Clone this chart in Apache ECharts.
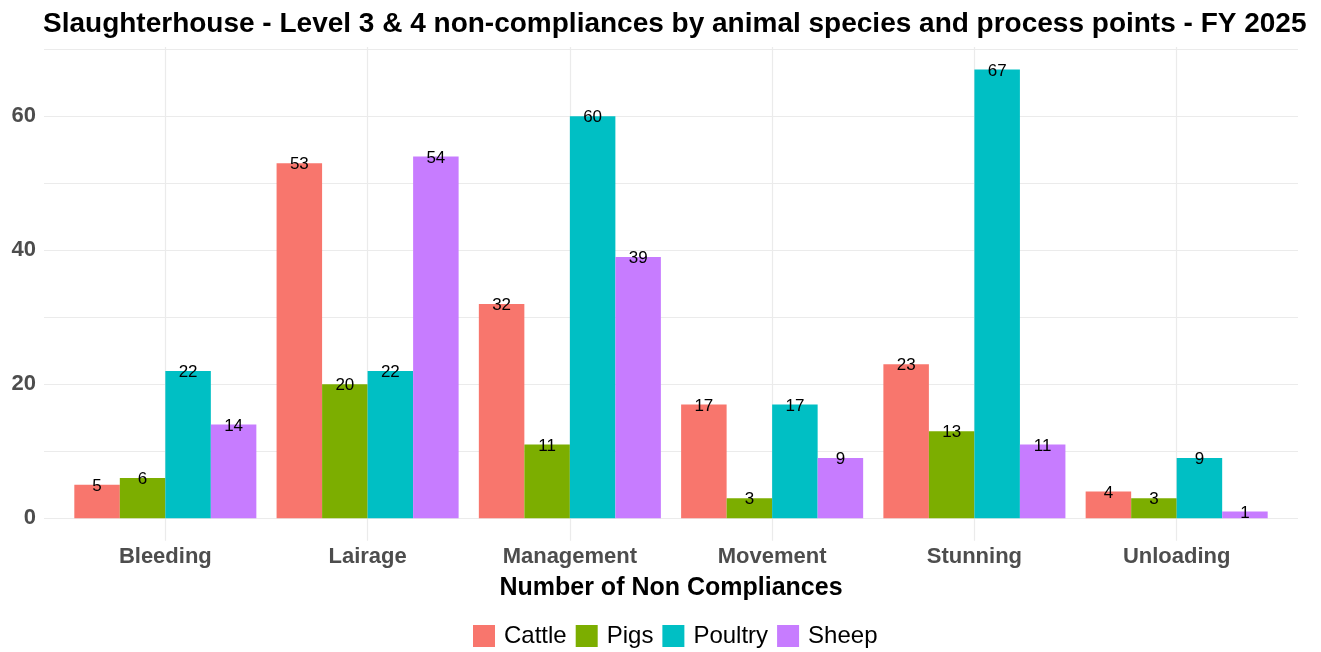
<!DOCTYPE html>
<html>
<head>
<meta charset="utf-8">
<script src="https://cdn.jsdelivr.net/npm/echarts@6/dist/echarts.min.js"></script>
<style>
  html, body { margin: 0; padding: 0; background: #fff; }
  #chart { width: 1321px; height: 652px; }
</style>
</head>
<body>
<div id="chart"></div>
<script>
// Process points and non-compliance counts per species
const processPoints = ['Bleeding', 'Lairage', 'Management', 'Movement', 'Stunning', 'Unloading'];
const cattle  = [5, 53, 32, 17, 23, 4];
const pigs    = [6, 20, 11, 3, 13, 3];
const poultry = [22, 22, 60, 17, 67, 9];
const sheep   = [14, 54, 39, 9, 11, 1];
const speciesNames = ['Cattle', 'Pigs', 'Poultry', 'Sheep'];
const speciesColors = ['#F8766D', '#7CAE00', '#00BFC4', '#C77CFF'];
const yTicks = [0, 10, 20, 30, 40, 50, 60, 70];

const FONT = '"Liberation Sans", Arial, sans-serif';
const GRID_COLOR = '#ebebeb';

const chart = echarts.init(document.getElementById('chart'), null, { renderer: 'canvas' });

const seriesData = [cattle, pigs, poultry, sheep];

const option = {
  backgroundColor: '#ffffff',
  animation: false,
  title: {
    text: 'Slaughterhouse - Level 3 & 4 non-compliances by animal species and process points - FY 2025',
    left: 38,
    top: 5,
    textStyle: { fontFamily: FONT, fontWeight: 'bold', fontSize: 28, color: '#000' }
  },
  legend: {
    data: speciesNames,
    left: 468,
    top: 619,
    itemWidth: 22,
    itemHeight: 22,
    itemGap: 9,
    icon: 'rect',
    textStyle: { fontFamily: FONT, fontSize: 24, color: '#000', padding: [0, 0, 0, 4] }
  },
  grid: [
    // bars
    { left: 64.2, right: 43.2, top: 49.3, bottom: 133.7 },
    // vertical guide lines at category centres
    { left: 165.4, right: 144.4, top: 46.9, bottom: 111.3 },
    // horizontal guide lines and value labels
    { left: 44, right: 23, top: 49.3, bottom: 133.7 }
  ],
  xAxis: [
    {
      gridIndex: 0,
      type: 'category',
      data: processPoints,
      axisLine: { show: false },
      axisTick: { show: false },
      splitLine: { show: false },
      axisLabel: {
        margin: 28,
        fontFamily: FONT, fontWeight: 'bold', fontSize: 22, color: '#4d4d4d'
      },
      name: 'Number of Non Compliances',
      nameLocation: 'middle',
      nameGap: 57,
      nameTextStyle: { fontFamily: FONT, fontWeight: 'bold', fontSize: 25, color: '#000' }
    },
    {
      gridIndex: 1,
      type: 'category',
      data: processPoints,
      boundaryGap: false,
      axisLine: { show: false },
      axisTick: { show: false },
      axisLabel: { show: false },
      splitLine: { show: true, interval: 0, lineStyle: { color: GRID_COLOR, width: 1.2 } }
    },
    {
      gridIndex: 2,
      type: 'value',
      min: 0, max: 1,
      show: false
    }
  ],
  yAxis: [
    {
      gridIndex: 0,
      type: 'value',
      min: 0, max: 70,
      interval: 10,
      show: false
    },
    {
      gridIndex: 1,
      type: 'value',
      min: 0, max: 1,
      show: false
    },
    {
      gridIndex: 2,
      type: 'value',
      min: yTicks[0], max: yTicks[yTicks.length - 1],
      interval: 10,
      axisLine: { show: false },
      axisTick: { show: false },
      splitLine: { show: true, lineStyle: { color: GRID_COLOR, width: 1.2 } },
      axisLabel: {
        margin: 8,
        fontFamily: FONT, fontWeight: 'bold', fontSize: 22, color: '#4d4d4d',
        formatter: v => (v % 20 === 0 ? String(v) : '')
      }
    }
  ],
  series: speciesNames.map((name, i) => ({
    name: name,
    type: 'bar',
    xAxisIndex: 0,
    yAxisIndex: 0,
    data: seriesData[i],
    barGap: '0%',
    barCategoryGap: '10%',
    itemStyle: { color: speciesColors[i] },
    z: 3,
    label: {
      show: true,
      position: 'top',
      distance: 0,
      offset: [0, 10],
      fontFamily: FONT,
      fontSize: 17,
      color: '#000'
    }
  }))
};

chart.setOption(option);
</script>
</body>
</html>
